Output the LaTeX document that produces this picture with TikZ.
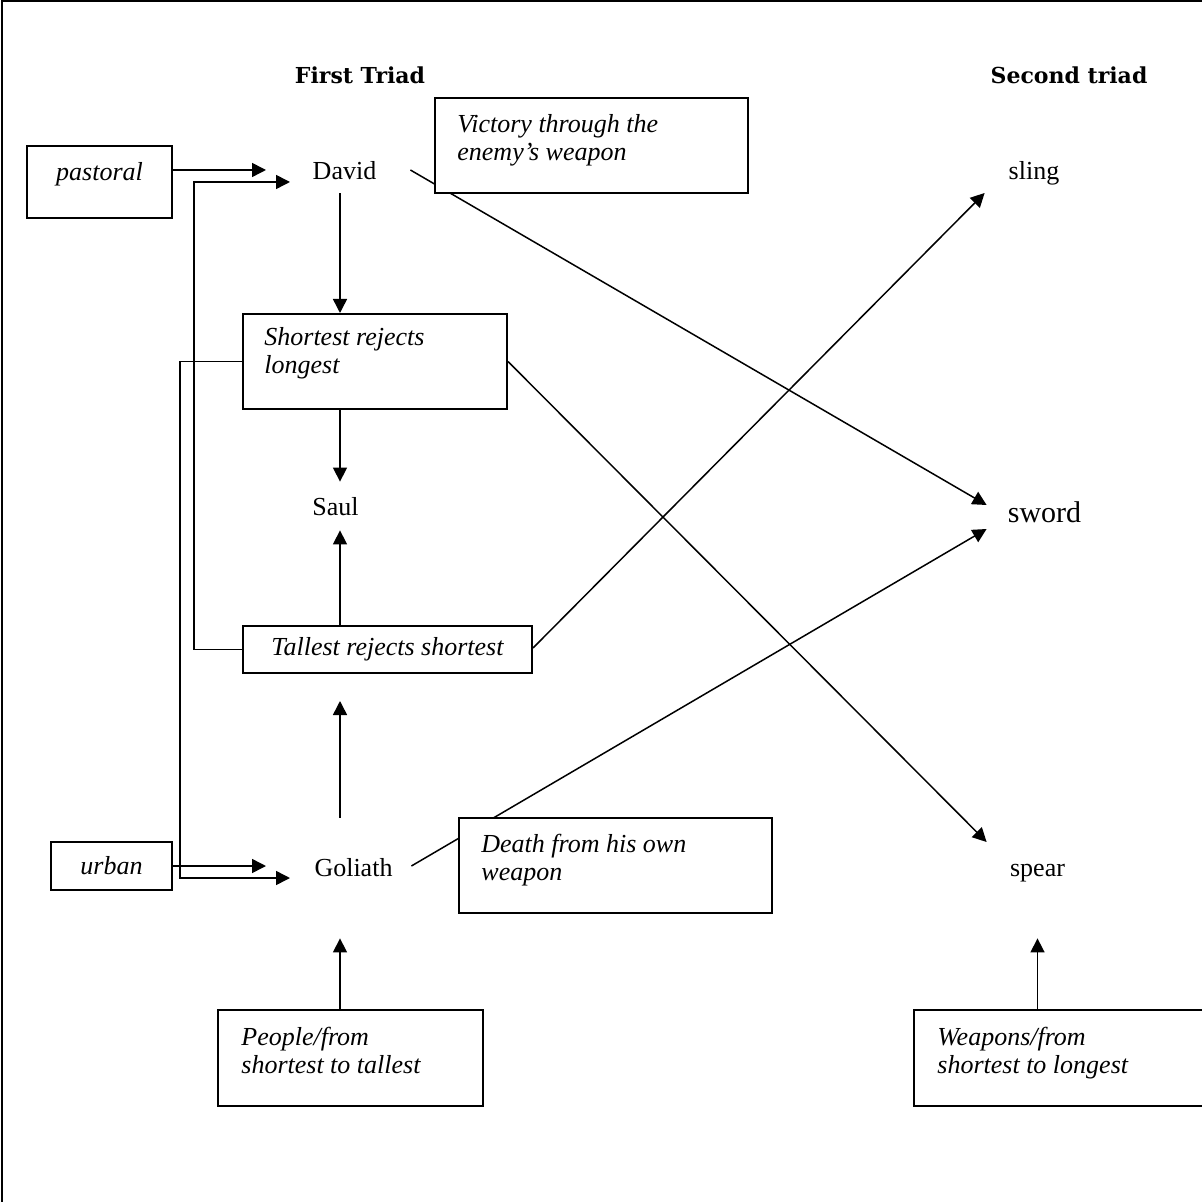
\documentclass[tikz,border=0pt]{standalone}
\usepackage{fontspec}
\setmainfont{Liberation Serif}
\newfontfamily\headfont{DejaVu Serif}
\usetikzlibrary{arrows.meta}
\tikzset{
  >={Triangle[length=7pt,width=7pt]},
  arr/.style={->,line width=0.75pt},
  word/.style={inner sep=0pt,text height=9pt,text depth=3pt,
               font=\fontsize{13pt}{15pt}\selectfont},
  heading/.style={inner sep=0pt,font=\headfont\bfseries\fontsize{11pt}{13pt}\selectfont},
  notebox/.style={draw,line width=1pt,fill=white,inner sep=0pt},
  notetext/.style={inner sep=0pt,anchor=north west,align=left,
                   font=\itshape\fontsize{13pt}{14pt}\selectfont},
  tagtext/.style={inner sep=0pt,font=\itshape\fontsize{13pt}{15pt}\selectfont},
}
\begin{document}
\begin{tikzpicture}[x=0.5pt,y=-0.5pt]
\clip (0,0) rectangle (1202,1202);
\draw[line width=1pt] (1.5,1.5) rectangle (1240,1240);

% headings of the two triads
\node[heading] (firstHd)  at (360,75)  {First Triad};
\node[heading] (secondHd) at (1069,75) {Second triad};

% people and weapons
\node[word,minimum width=34.5pt] (david)   at (344.5,174) {David};
\node[word,minimum width=25.5pt] (saul)    at (335.5,509) {Saul};
\node[word,minimum width=43.5pt] (goliath) at (353.5,870) {Goliath};
\node[word,minimum width=28pt]   (sling)   at (1034,174)  {sling};
\node[word,minimum width=37.5pt,font=\fontsize{15pt}{17pt}\selectfont]
      (sword) at (1044.5,516) {sword};
\node[word,minimum width=31.5pt] (spear)   at (1037.5,870) {spear};

% boxes of the first column
\node[notebox,minimum width=72.5pt,minimum height=36pt] (pastoral) at (99.5,182) {};
\node[tagtext] (pastoralTxt) at (99.5,174) {pastoral};
\node[notebox,tagtext,minimum width=60.5pt,minimum height=24pt] (urban) at (111.5,866) {urban};

\node[notebox,minimum width=132pt,minimum height=47.5pt] (shortest) at (375,361.5) {};
\node[notetext] (shortestTxt) at (264,327) {Shortest rejects\\longest};
\node[notebox,tagtext,minimum width=144.5pt,minimum height=23.5pt]
      (tallest) at (387.5,649.5) {Tallest rejects shortest};

\node[notebox,minimum width=132.5pt,minimum height=48pt] (people) at (350.5,1058) {};
\node[notetext] (peopleTxt) at (241,1027) {People/from\\shortest to tallest};
\node[notebox,minimum width=150pt,minimum height=48pt] (weapons) at (1064,1058) {};
\node[notetext] (weaponsTxt) at (937,1027) {Weapons/from\\shortest to longest};

% inputs into David and Goliath
\coordinate (dIn1) at (266,170);
\coordinate (dIn2) at (290,182);
\coordinate (gIn1) at (266,866);
\coordinate (gIn2) at (290,878);
\coordinate (col)  at (340,0);

\draw[arr] (pastoral.east |- dIn1) -- (dIn1);
\draw[arr] (tallest.west) -- ++(-48,0) |- (dIn2);
\draw[arr] (urban.east) -- (gIn1);
\draw[arr] (shortest.west) -- ++(-62,0) |- (gIn2);

% the vertical column
\draw[arr,shorten <=3.5pt] (david.south -| col) -- (shortest.north -| col);
\draw[arr,shorten >=7.5pt] (shortest.south -| col) -- (saul.north -| col);
\draw[arr,shorten >=4.5pt] (tallest.north -| col) -- (saul.south -| col);
\draw[arr,shorten <=20pt,shorten >=13.5pt] (goliath.north -| col) -- (tallest.south -| col);
\draw[arr,shorten >=28pt] (people.north -| col) -- (goliath.south -| col);
\draw[arr,shorten >=28pt] (weapons.north -| spear.south) -- (spear.south);

% crossings into the second triad
\draw[arr] ([xshift=15.5pt,yshift=2pt]david.east) -- ([xshift=-10pt,yshift=5.5pt]sword.west);
\draw[arr] (shortest.east) -- ([xshift=-9.5pt,yshift=14pt]spear.west);
\draw[arr] ([yshift=0.75pt]tallest.east) -- ([xshift=-10.5pt,yshift=-9.5pt]sling.west);
\draw[arr] ([xshift=7pt,yshift=2pt]goliath.east) -- ([xshift=-10pt,yshift=-6.5pt]sword.west);

% boxes laid over the crossings
\node[notebox,minimum width=156.5pt,minimum height=47.5pt] (victory) at (591.5,145.5) {};
\node[notetext] (victoryTxt) at (457,114) {Victory through the\\enemy’s weapon};
\node[notebox,minimum width=156.5pt,minimum height=47.5pt] (death) at (615.5,865.5) {};
\node[notetext] (deathTxt) at (481,834) {Death from his own\\weapon};

\end{tikzpicture}
\end{document}
